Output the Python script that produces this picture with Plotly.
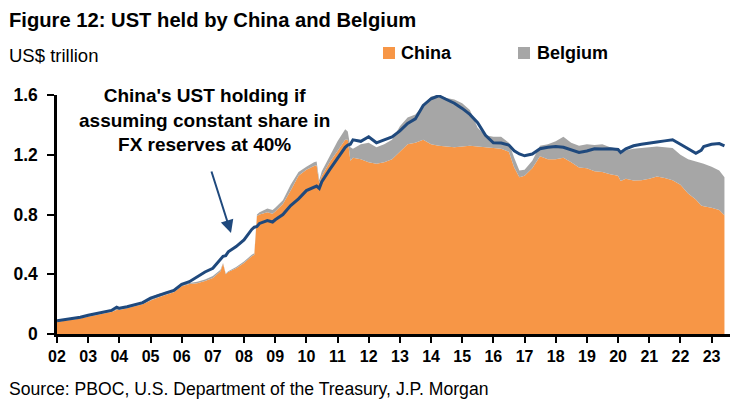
import plotly.graph_objects as go

# quarterly-ish readings, US$ trillion (extra points where series jump)
dates = [
    "2002-01", "2002-04", "2002-07", "2002-10",
    "2003-01", "2003-04", "2003-07", "2003-10", "2003-12",
    "2004-01", "2004-04", "2004-07", "2004-10",
    "2005-01", "2005-04", "2005-07", "2005-10",
    "2006-01", "2006-04", "2006-07", "2006-10",
    "2007-01", "2007-04", "2007-05", "2007-06", "2007-07", "2007-10",
    "2008-01", "2008-04", "2008-05", "2008-06", "2008-07", "2008-10", "2008-12",
    "2009-01", "2009-04", "2009-07", "2009-10",
    "2010-01", "2010-04", "2010-05", "2010-06", "2010-07", "2010-10",
    "2011-01", "2011-04", "2011-05", "2011-06", "2011-07", "2011-10",
    "2012-01", "2012-04", "2012-07", "2012-10",
    "2013-01", "2013-04", "2013-07", "2013-10",
    "2014-01", "2014-04", "2014-07", "2014-10",
    "2015-01", "2015-04", "2015-07", "2015-10",
    "2016-01", "2016-04", "2016-07", "2016-09", "2016-11",
    "2017-01", "2017-04", "2017-07", "2017-10",
    "2018-01", "2018-04", "2018-07", "2018-10",
    "2019-01", "2019-04", "2019-07", "2019-10",
    "2020-01", "2020-02", "2020-04", "2020-07", "2020-10",
    "2021-01", "2021-04", "2021-07", "2021-10",
    "2022-01", "2022-04", "2022-07", "2022-09", "2022-10",
    "2023-01", "2023-04", "2023-06",
]

china = [
    0.080, 0.088, 0.095, 0.103,
    0.115, 0.125, 0.137, 0.148, 0.160,
    0.160, 0.172, 0.185, 0.200,
    0.225, 0.245, 0.262, 0.280,
    0.320, 0.335, 0.340, 0.355,
    0.375, 0.420, 0.470, 0.400, 0.415, 0.440,
    0.475, 0.520, 0.530, 0.790, 0.800, 0.815, 0.805,
    0.820, 0.870, 0.960, 1.060,
    1.100, 1.125, 1.130, 1.010, 1.060, 1.150,
    1.225, 1.300, 1.300, 1.160, 1.180, 1.170,
    1.150, 1.140, 1.150, 1.170,
    1.220, 1.270, 1.280, 1.300,
    1.270, 1.260, 1.255, 1.250,
    1.255, 1.260, 1.255, 1.250,
    1.245, 1.240, 1.220, 1.115, 1.050,
    1.060, 1.110, 1.190, 1.170,
    1.170, 1.180, 1.150, 1.115,
    1.110, 1.090, 1.085, 1.070,
    1.060, 1.025, 1.040, 1.027, 1.030,
    1.040, 1.055, 1.045, 1.030,
    1.000, 0.940, 0.900, 0.860, 0.855,
    0.845, 0.830, 0.795,
]

belgium = [
    0.003, 0.004, 0.005, 0.005,
    0.007, 0.007, 0.008, 0.007, 0.008,
    0.008, 0.010, 0.011, 0.012,
    0.020, 0.023, 0.018, 0.012,
    0.008, 0.007, 0.010, 0.010,
    0.013, 0.010, 0.005, 0.005, 0.005, 0.008,
    0.010, 0.010, 0.010, 0.010, 0.015, 0.025, 0.025,
    0.025, 0.025, 0.040, 0.025,
    0.020, 0.025, 0.025, 0.020, 0.030, 0.040,
    0.065, 0.070, 0.055, 0.090, 0.060, 0.100,
    0.130, 0.110, 0.120, 0.130,
    0.170, 0.180, 0.190, 0.230,
    0.320, 0.340, 0.325, 0.320,
    0.290, 0.240, 0.125, 0.080,
    0.075, 0.080, 0.060, 0.065, 0.045,
    0.040, 0.050, 0.070, 0.100,
    0.120, 0.140, 0.130, 0.145,
    0.160, 0.175, 0.185, 0.180,
    0.180, 0.180, 0.190, 0.213, 0.215,
    0.210, 0.200, 0.205, 0.215,
    0.200, 0.230, 0.255, 0.285, 0.285,
    0.275, 0.265, 0.255,
]

# China's UST holding if constant 40% share of FX reserves
const_share = [
    0.088, 0.095, 0.103, 0.112,
    0.125, 0.135, 0.147, 0.158, 0.180,
    0.172, 0.182, 0.195, 0.210,
    0.240, 0.260, 0.275, 0.292,
    0.333, 0.350, 0.385, 0.415,
    0.440, 0.500, 0.520, 0.525, 0.550, 0.585,
    0.630, 0.700, 0.715, 0.720, 0.740, 0.760, 0.750,
    0.765, 0.800, 0.860, 0.905,
    0.960, 0.985, 0.990, 0.975, 1.020, 1.100,
    1.180, 1.250, 1.265, 1.270, 1.300, 1.290,
    1.320, 1.280, 1.300, 1.320,
    1.360, 1.410, 1.440, 1.530,
    1.575, 1.595, 1.570, 1.545,
    1.510, 1.470, 1.415, 1.330,
    1.280, 1.278, 1.265, 1.227, 1.205,
    1.193, 1.205, 1.240, 1.250,
    1.255, 1.250, 1.235, 1.215,
    1.225, 1.240, 1.238, 1.240,
    1.235, 1.215, 1.240, 1.260, 1.270,
    1.280, 1.285, 1.293, 1.300,
    1.270, 1.240, 1.210, 1.230, 1.255,
    1.270, 1.275, 1.260,
]

ORANGE = "#F79646"
GREY = "#A6A6A6"
NAVY = "#1F497D"
FONT = "Liberation Sans, Arial, sans-serif"

# pixel geometry of the plot area
W, H = 746, 407
L, R, T, B = 57, 730, 95, 334
pw, ph = R - L, B - T


def px(xp):
    return (xp - L) / pw


def py(yp):
    return (B - yp) / ph


fig = go.Figure()
fig.add_trace(go.Scatter(x=dates, y=china, stackgroup="a", mode="none",
                         fillcolor=ORANGE, name="China", hoverinfo="skip"))
fig.add_trace(go.Scatter(x=dates, y=belgium, stackgroup="a", mode="none",
                         fillcolor=GREY, name="Belgium", hoverinfo="skip"))
fig.add_trace(go.Scatter(x=dates, y=const_share, mode="lines",
                         line=dict(color=NAVY, width=3)))

fig.update_layout(
    width=W, height=H,
    margin=dict(l=L, r=W - R, t=T, b=H - B),
    plot_bgcolor="white", paper_bgcolor="white",
    font=dict(family=FONT, color="black", size=16),
    showlegend=False,
)

fig.update_xaxes(
    type="date", range=["2002-01-01", "2023-08-05"],
    tick0="2002-01-01", dtick="M12", tickformat="%y",
    ticks="outside", ticklen=6, tickwidth=2, tickcolor="black",
    showline=True, linecolor="black", linewidth=3,
    showgrid=False, zeroline=False,
    tickfont=dict(size=16, weight="bold"),
)
fig.update_yaxes(
    range=[0, 1.6], tickvals=[0, 0.4, 0.8, 1.2, 1.6],
    ticktext=["0", "0.4", "0.8", "1.2", "1.6"],
    ticks="outside", ticklen=7, tickwidth=2, tickcolor="black",
    ticklabelstandoff=6,
    showline=True, linecolor="black", linewidth=2.5,
    showgrid=False, zeroline=False,
    tickfont=dict(size=17.5, weight="bold"),
)

# hand-built legend
for name, col, x0, tx in [("China", ORANGE, 383, 399), ("Belgium", GREY, 518, 535)]:
    fig.add_shape(type="rect", xref="paper", yref="paper",
                  x0=px(x0), x1=px(x0 + 12), y0=py(59), y1=py(47),
                  fillcolor=col, line_width=0)
    fig.add_annotation(text=name, xref="paper", yref="paper", x=px(tx), y=py(53),
                       xanchor="left", yanchor="middle", showarrow=False,
                       font=dict(size=18, weight="bold"))

fig.add_annotation(text="Figure 12: UST held by China and Belgium",
                   xref="paper", yref="paper", x=px(7), y=py(20),
                   xanchor="left", yanchor="middle", showarrow=False,
                   font=dict(size=20.2, weight="bold"))
fig.add_annotation(text="US$ trillion", xref="paper", yref="paper",
                   x=px(7), y=py(56), xanchor="left", yanchor="middle",
                   showarrow=False, font=dict(size=18.5))
fig.add_annotation(text="Source: PBOC, U.S. Department of the Treasury, J.P. Morgan",
                   xref="paper", yref="paper", x=px(7), y=py(389),
                   xanchor="left", yanchor="middle", showarrow=False,
                   font=dict(size=17.6))
fig.add_annotation(text="China's UST holding if<br>assuming constant share in<br>FX reserves at 40%",
                   xref="paper", yref="paper", x=px(204), y=py(120),
                   xanchor="center", yanchor="middle", showarrow=False,
                   font=dict(size=19, weight="bold"))
fig.add_annotation(text="", xref="paper", yref="paper", x=px(231), y=py(233),
                   ax=-20, ay=-63, showarrow=True, arrowhead=2, arrowsize=1.3,
                   arrowwidth=2, arrowcolor=NAVY)

fig.write_html("out.html", config={"displayModeBar": False},
               post_script="document.body.style.margin='0';")
